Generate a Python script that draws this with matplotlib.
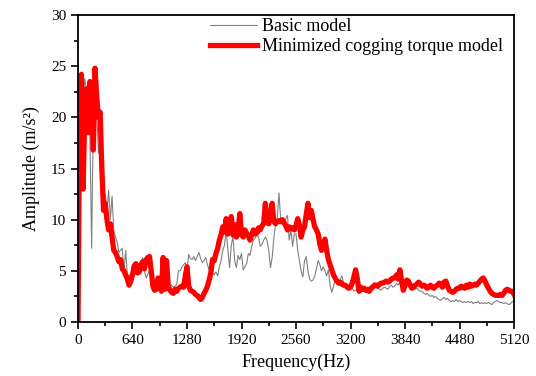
import numpy as np
import matplotlib
matplotlib.use("Agg")
import matplotlib.pyplot as plt
from matplotlib.ticker import MultipleLocator

plt.rcParams['font.family'] = ['Liberation Serif', 'DejaVu Serif']

# frequency grid (Hz), 20 Hz step
freq = np.arange(0, 5121, 20)

# basic model amplitude (m/s^2)
basic = [
    0, 20.5, 23.5, 21.5, 23.8, 22.5, 20.0, 18.5, 7.2, 20.0, 23.0, 20.5, 16.5, 18.0, 15.0, 12.9,
    12.5, 10.9, 12.9, 10.0, 12.3, 9.0, 8.3, 7.8, 6.8, 7.0, 7.2, 5.0, 7.0, 4.5, 4.6, 4.2,
    4.8, 4.5, 5.1, 4.6, 4.7, 4.9, 6.3, 5.0, 4.3, 4.7, 5.0, 4.4, 3.8, 4.0, 4.1, 4.2,
    3.9, 3.6, 3.8, 3.5, 3.7, 3.6, 3.5, 3.6, 3.4, 3.5, 3.7, 5.0, 5.0, 5.4, 5.6, 5.8,
    5.0, 6.6, 6.2, 6.1, 6.4, 6.0, 6.4, 6.8, 6.2, 5.8, 6.0, 6.3, 5.6, 5.1, 5.0, 4.8,
    4.6, 4.9, 4.5, 5.4, 6.0, 7.0, 7.5, 9.0, 7.0, 5.3, 7.5, 8.3, 6.0, 5.3, 6.5, 6.1,
    6.7, 5.1, 5.4, 5.7, 6.7, 6.5, 7.4, 8.0, 8.2, 8.5, 8.3, 7.4, 7.6, 8.0, 8.3, 8.0,
    7.0, 5.3, 6.3, 8.2, 9.6, 10.2, 12.6, 10.0, 9.6, 9.4, 10.1, 10.4, 8.0, 9.0, 7.4, 8.6,
    8.6, 7.0, 6.0, 5.0, 4.4, 6.0, 6.4, 5.0, 4.2, 4.0, 4.1, 4.5, 5.2, 6.0, 5.6, 5.0,
    5.4, 5.0, 4.5, 5.1, 3.6, 2.9, 3.5, 4.1, 3.9, 3.8, 4.2, 4.5, 3.8, 3.4, 3.3, 3.2,
    3.2, 3.3, 3.0, 3.1, 3.2, 3.0, 2.9, 3.0, 3.1, 3.0, 3.2, 3.4, 3.0, 3.2, 3.8, 3.5,
    3.3, 3.2, 3.1, 3.3, 3.4, 3.3, 3.2, 3.5, 3.6, 3.4, 3.5, 3.8, 3.6, 3.9, 3.5, 3.6,
    3.4, 3.8, 3.6, 3.5, 3.8, 3.3, 3.2, 3.3, 3.1, 3.0, 3.0, 2.8, 2.7, 2.8, 2.6, 2.5,
    2.6, 2.4, 2.5, 2.3, 2.2, 2.1, 2.3, 2.4, 2.2, 2.3, 2.1, 2.0, 2.1, 2.0, 2.2, 2.0,
    2.1, 2.0, 1.9, 2.0, 1.9, 2.0, 1.9, 2.0, 1.8, 1.9, 1.9, 2.0, 1.8, 1.9, 1.8, 1.9,
    1.8, 1.9, 1.8, 1.7, 1.9, 2.0, 2.1, 2.0, 1.9, 1.9, 1.8, 1.9, 1.8, 1.7, 1.8, 2.0, 2.0,
]

# minimized cogging torque model amplitude (m/s^2)
minimized = [
    0, 22.0, 24.2, 13.0, 21.0, 22.8, 18.5, 23.5, 22.0, 16.8, 24.8, 22.0, 20.0, 20.5, 15.0, 10.9,
    11.6, 10.0, 9.0, 9.6, 8.3, 7.0, 6.8, 6.4, 5.9, 6.1, 5.2, 5.0, 4.6, 4.2, 3.6, 4.0,
    4.6, 5.5, 5.7, 4.8, 4.9, 5.6, 5.9, 5.2, 6.1, 6.3, 6.4, 5.0, 3.5, 3.1, 3.2, 4.3,
    4.0, 3.0, 6.3, 3.2, 6.0, 3.5, 3.1, 2.9, 2.8, 3.2, 3.0, 3.3, 3.4, 3.5, 3.4, 4.5,
    5.4, 3.5, 3.1, 3.0, 2.9, 2.7, 2.6, 2.4, 2.2, 2.4, 2.8, 3.1, 3.5, 4.1, 4.8, 6.1,
    6.0, 6.7, 7.2, 8.0, 8.5, 9.3, 8.8, 10.1, 8.6, 9.2, 10.3, 8.5, 9.5, 8.3, 9.0, 10.6,
    8.5, 8.3, 9.0, 8.7, 8.4, 8.0, 8.5, 9.0, 8.6, 8.7, 9.2, 9.0, 9.4, 9.6, 11.6, 10.0,
    9.6, 10.5, 11.6, 9.8, 9.6, 9.8, 9.9, 9.8, 10.0, 9.7, 9.4, 9.0, 9.3, 9.1, 9.2, 9.0,
    9.4, 10.1, 9.5, 8.3, 9.0, 9.3, 10.5, 11.6, 10.2, 10.9, 10.0, 9.3, 9.0, 8.6, 7.6, 7.0,
    7.5, 8.1, 7.0, 6.1, 5.6, 5.1, 4.6, 4.3, 4.0, 3.8, 3.9, 3.7, 3.6, 3.6, 3.4, 3.3,
    3.4, 3.8, 4.4, 5.1, 4.2, 3.0, 3.4, 3.2, 3.3, 3.1, 3.2, 3.0, 3.3, 3.4, 3.6, 3.6,
    3.5, 3.7, 3.8, 3.8, 3.9, 4.0, 3.9, 4.0, 4.2, 4.3, 4.3, 4.6, 4.2, 5.1, 4.0, 3.1,
    3.6, 4.1, 4.0, 3.6, 3.3, 3.4, 3.6, 3.7, 3.9, 3.7, 3.5, 3.6, 3.5, 3.3, 3.4, 3.6,
    3.4, 3.3, 3.5, 3.6, 3.8, 3.7, 3.4, 3.9, 4.0, 3.5, 3.1, 3.0, 2.9, 3.0, 3.2, 3.3,
    3.3, 3.5, 3.4, 3.3, 3.6, 3.4, 3.7, 3.5, 3.6, 3.7, 3.6, 3.8, 4.0, 4.2, 4.3, 4.0,
    3.6, 3.3, 3.0, 2.8, 2.7, 2.6, 2.6, 2.6, 2.7, 2.6, 2.8, 3.1, 3.2, 3.1, 3.0, 3.0, 2.7,
]

xticks = [0, 640, 1280, 1920, 2560, 3200, 3840, 4480, 5120]

fig = plt.figure(figsize=(5.36, 3.76), dpi=100)
ax = fig.add_axes([0.1455, 0.1436, 0.8135, 0.8165])

ax.plot(freq, basic, color='#808080', lw=0.8, label='Basic model')
ax.plot(freq, minimized, color='#ff0000', lw=3.8, label='Minimized cogging torque model')

ax.set_xlim(0, 5120)
ax.set_ylim(0, 30)
ax.set_xticks(xticks)
ax.xaxis.set_minor_locator(MultipleLocator(320))
ax.yaxis.set_major_locator(MultipleLocator(5))
ax.yaxis.set_minor_locator(MultipleLocator(2.5))
ax.tick_params(which='both', direction='out', top=False, right=False, width=1.2, labelsize=11)
ax.tick_params(which='major', length=5)
ax.tick_params(which='minor', length=3)
for s in ax.spines.values():
    s.set_linewidth(1.3)

ax.set_xlabel('Frequency(Hz)', fontsize=13, labelpad=5)
ax.set_ylabel('Amplitude (m/s²)', fontsize=13, labelpad=8)

ax.legend(loc='upper right', bbox_to_anchor=(1.0, 1.025), frameon=False, fontsize=13,
          handlelength=2.6, handletextpad=0.3, labelspacing=0.15, borderaxespad=0.2)

fig.savefig('out.png', dpi=100)
